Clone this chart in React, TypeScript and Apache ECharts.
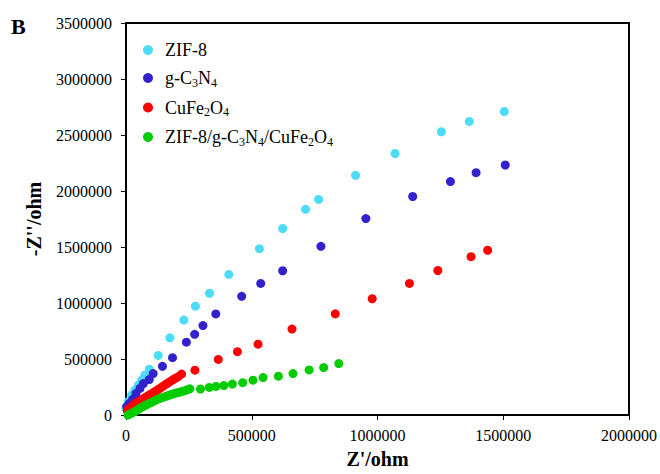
import React, { useEffect, useRef } from "react";
import * as echarts from "echarts";

const seriesNames = ["ZIF-8", "g-C3N4", "CuFe2O4", "ZIF-8/g-C3N4/CuFe2O4"];
const legendRich: Record<string, string> = {
  "ZIF-8": "{n|ZIF-8}",
  "g-C3N4": "{n|g-C}{s|3}{n|N}{s|4}",
  "CuFe2O4": "{n|CuFe}{s|2}{n|O}{s|4}",
  "ZIF-8/g-C3N4/CuFe2O4": "{n|ZIF-8/g-C}{s|3}{n|N}{s|4}{n|/CuFe}{s|2}{n|O}{s|4}",
};
const colors = ["#4DDCF5", "#3322CC", "#FF0000", "#00CC00"];

const zif8: number[][] = [
  [0, 60000], [9000, 119000], [22600, 179000], [35700, 223000], [49000, 267000],
  [62000, 311000], [75000, 356000], [92500, 409000], [128000, 532000], [174600, 689000],
  [230000, 848000], [276000, 972000], [332000, 1087000], [408700, 1255000], [530500, 1485000],
  [623000, 1665000], [714000, 1836000], [766000, 1925000], [912700, 2140000], [1070000, 2335000],
  [1254000, 2529000], [1365000, 2621000], [1504000, 2710000],
];
const gc3n4: number[][] = [
  [3000, 75000], [13000, 104000], [26500, 140000], [39700, 193000], [55500, 237000],
  [69000, 281000], [92500, 317000], [108000, 370000], [145000, 435000], [185000, 512000],
  [240000, 650000], [273000, 720000], [306000, 798000], [357000, 902000], [460000, 1060000],
  [535700, 1175000], [623000, 1288000], [775000, 1506000], [953700, 1754000], [1140000, 1951000],
  [1290000, 2084000], [1392000, 2164000], [1508000, 2232000],
];
const cufe2o4: number[][] = [
  [5000, 40000], [13000, 60000], [29000, 90000], [38000, 105000], [49000, 119000],
  [59000, 132000], [69000, 146000], [78000, 159000], [88000, 172000], [98000, 186000],
  [108000, 199000], [118000, 213000], [128000, 228000], [138000, 243000], [148000, 258000],
  [158000, 273000], [168000, 288000], [178000, 302000], [188000, 317000], [197000, 329000],
  [207000, 341000], [221000, 365000], [274000, 400000], [367000, 496000], [443000, 565000],
  [525000, 632000], [660000, 767000], [832000, 903000], [979000, 1038000], [1127000, 1175000],
  [1240000, 1290000], [1372000, 1414000], [1438000, 1471000],
];
const composite: number[][] = [
  [8000, 0], [18000, 12000], [27000, 22000], [36000, 31000], [45000, 45000],
  [55000, 60000], [65000, 72000], [75000, 84000], [85000, 95000], [95000, 106000],
  [105000, 117000], [115000, 128000], [125000, 139000], [135000, 149000], [145000, 157000],
  [155000, 164000], [165000, 172000], [175000, 179000], [184000, 186000], [194000, 193000],
  [204000, 199000], [214000, 204000], [224000, 211000], [234000, 217000], [244000, 226000],
  [254000, 234000], [296000, 232000], [331000, 246000], [358000, 255000], [389000, 263000],
  [423000, 276000], [464000, 289000], [505000, 311000], [545000, 334000], [606000, 347000],
  [664000, 370000], [728000, 402000], [786000, 423000], [846000, 459000],
];
const allData = [zif8, gc3n4, cufe2o4, composite];

const xTicks = { min: 0, max: 2000000, interval: 500000 };
const yTicks = { min: 0, max: 3500000, interval: 500000 };

const FONT = "'Liberation Serif', 'Times New Roman', serif";

const GRID = { left: 126, right: 30, top: 23, bottom: 56 };
const W = 660;
const H = 474;

export default function App() {
  const ref = useRef<HTMLDivElement>(null);
  useEffect(() => {
    if (!ref.current) return;
    const chart = echarts.init(ref.current, undefined, { renderer: "svg" });
    chart.setOption({
      animation: false,
      backgroundColor: "#ffffff",
      textStyle: { fontFamily: FONT },
      graphic: [
        {
          type: "text",
          left: 11,
          top: 15,
          style: { text: "B", font: `bold 22px ${FONT}`, fill: "#000" },
        },
      ],
      grid: {
        ...GRID,
        show: true,
        borderColor: "#000000",
        borderWidth: 2,
        backgroundColor: "rgba(0,0,0,0)",
      },
      legend: {
        orient: "vertical",
        left: 138,
        top: 36,
        itemWidth: 24,
        itemHeight: 10,
        itemGap: 10,
        icon: "circle",
        data: seriesNames,
        formatter: (name: string) => legendRich[name],
        textStyle: {
          fontFamily: FONT,
          color: "#000",
          rich: {
            n: { fontFamily: FONT, fontSize: 18, color: "#000", lineHeight: 21, verticalAlign: "middle" },
            s: { fontFamily: FONT, fontSize: 12, color: "#000", lineHeight: 12, verticalAlign: "bottom" },
          },
        },
      },
      xAxis: {
        type: "value",
        ...xTicks,
        name: "Z'/ohm",
        nameLocation: "middle",
        nameGap: 34,
        nameTextStyle: { fontFamily: FONT, fontWeight: "bold", fontSize: 20, color: "#000" },
        axisLine: { show: true, onZero: false, lineStyle: { color: "#000", width: 2 } },
        axisTick: { show: true, inside: false, length: 5, lineStyle: { color: "#000", width: 1 } },
        axisLabel: {
          fontFamily: FONT,
          fontSize: 16,
          color: "#000",
          margin: 12,
          formatter: (v: number) => String(v),
        },
        splitLine: { show: false },
      },
      yAxis: {
        type: "value",
        ...yTicks,
        name: "-Z''/ohm",
        nameLocation: "middle",
        nameGap: 82,
        nameRotate: 90,
        nameTextStyle: { fontFamily: FONT, fontWeight: "bold", fontSize: 20, color: "#000" },
        axisLine: { show: true, onZero: false, lineStyle: { color: "#000", width: 2 } },
        axisTick: { show: true, inside: false, length: 5, lineStyle: { color: "#000", width: 1 } },
        axisLabel: {
          fontFamily: FONT,
          fontSize: 16,
          color: "#000",
          margin: 14,
          formatter: (v: number) => String(v),
        },
        splitLine: { show: false },
      },
      series: seriesNames.map((name, i) => ({
        name,
        type: "scatter",
        data: allData[i],
        symbol: "circle",
        symbolSize: 9,
        itemStyle: { color: colors[i], opacity: 1 },
        emphasis: { disabled: true },
      })),
    });
    return () => chart.dispose();
  }, []);
  return <div ref={ref} style={{ width: W, height: H, position: "absolute", left: 0, top: 0 }} />;
}
